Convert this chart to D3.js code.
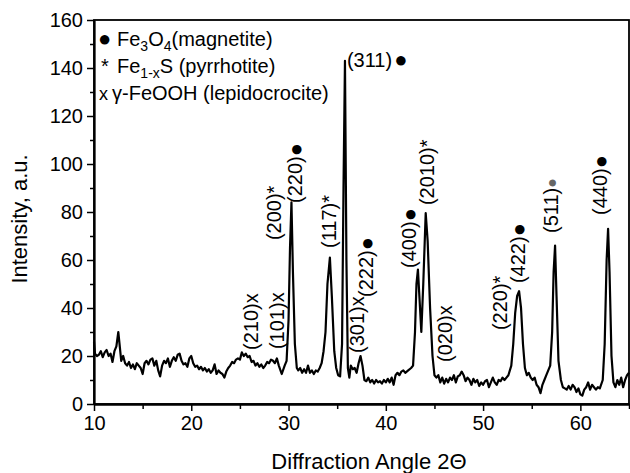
<!DOCTYPE html>
<html>
<head>
<meta charset="utf-8">
<script src="https://cdn.jsdelivr.net/npm/d3@7"></script>
<style>
  body { margin: 0; background: #fff; }
  text { font-family: "Liberation Sans", Arial, sans-serif; fill: #000; }
</style>
</head>
<body>
<script>
const width = 630;
const height = 473;

// XRD pattern: 2theta (deg) and intensity (a.u.)
const twoTheta = [
  10.0, 10.1, 10.3, 10.5, 10.7, 10.9, 11.1, 11.3, 11.5, 11.7, 11.9, 12.1, 12.3, 12.5, 12.6, 12.8,
  13.0, 13.2, 13.4, 13.6, 13.8, 14.0, 14.2, 14.4, 14.6, 14.8, 15.0, 15.2, 15.4, 15.6, 15.8,
  16.0, 16.2, 16.4, 16.6, 16.8, 17.0, 17.2, 17.4, 17.6, 17.8, 18.0, 18.2, 18.4, 18.6, 18.8,
  19.0, 19.2, 19.4, 19.6, 19.8, 20.0, 20.2, 20.4, 20.6, 20.8, 21.0, 21.2, 21.4, 21.6, 21.8,
  22.0, 22.2, 22.4, 22.6, 22.8, 23.0, 23.2, 23.4, 23.6, 23.8, 24.0, 24.2, 24.4, 24.6, 24.8,
  25.0, 25.2, 25.4, 25.6, 25.8, 26.0, 26.2, 26.4, 26.6, 26.8, 27.0, 27.2, 27.4, 27.6, 27.8,
  28.0, 28.2, 28.4, 28.6, 28.8, 29.0, 29.3, 29.6, 29.8, 30.0, 30.15, 30.3, 30.45, 30.65, 30.85,
  31.0, 31.2, 31.4, 31.6, 31.8, 32.0, 32.2, 32.4, 32.6, 32.8, 33.0, 33.2, 33.4, 33.6, 33.8,
  34.0, 34.25, 34.45, 34.7, 34.9, 35.1, 35.3, 35.5, 35.65, 35.8, 35.95, 36.1, 36.25, 36.4, 36.6,
  36.8, 37.0, 37.2, 37.4, 37.6, 37.8, 38.0, 38.2, 38.4, 38.6, 38.8, 39.0, 39.2, 39.4, 39.6,
  39.8, 40.0, 40.2, 40.4, 40.6, 40.8, 41.0, 41.2, 41.4, 41.6, 41.8, 42.0, 42.3, 42.6, 42.8,
  43.0, 43.15, 43.3, 43.45, 43.65, 43.85, 44.1, 44.3, 44.55, 44.8, 45.0, 45.2, 45.4, 45.6, 45.8,
  46.0, 46.2, 46.4, 46.6, 46.8, 47.0, 47.2, 47.4, 47.6, 47.8, 48.0, 48.2, 48.4, 48.6, 48.8,
  49.0, 49.2, 49.4, 49.6, 49.8, 50.0, 50.2, 50.4, 50.6, 50.8, 51.0, 51.2, 51.4, 51.6, 51.8,
  52.0, 52.2, 52.4, 52.6, 52.9, 53.1, 53.3, 53.5, 53.7, 53.9, 54.1, 54.3, 54.5, 54.7, 54.9,
  55.1, 55.3, 55.5, 55.7, 55.9, 56.1, 56.3, 56.5, 56.7, 56.9, 57.1, 57.25, 57.4, 57.55, 57.75,
  58.0, 58.2, 58.4, 58.6, 58.8, 59.0, 59.2, 59.4, 59.6, 59.8, 60.0, 60.2, 60.4, 60.6, 60.8,
  61.0, 61.2, 61.4, 61.6, 61.8, 62.0, 62.3, 62.5, 62.7, 62.85, 63.0, 63.2, 63.4, 63.6, 63.8,
  64.0, 64.2, 64.4, 64.6, 64.8, 65.0
];
const intensity = [
  26, 21, 20, 20.5, 22, 19.5, 21.5, 22.5, 20, 21, 17.5, 22, 24, 30, 26, 18,
  20, 17, 16, 17.5, 15, 16.5, 14.5, 17, 16, 15, 12.5, 17, 18, 16.5, 18.5,
  19, 16, 18, 14, 11.5, 16, 18, 17, 19, 15.5, 18, 19.5, 18, 20.5, 21,
  18, 16.5, 17, 15.5, 19, 20, 17, 15.5, 16, 14.5, 15.5, 14, 15, 13.5, 14.5,
  13, 14, 16.5, 12.5, 14, 13, 12.5, 11, 13.5, 15, 16, 17.5, 17, 18.5, 19,
  18.5, 21.5, 20, 21, 19.5, 20, 17.5, 18, 16, 17, 15.5, 16.5, 15, 16, 17.5,
  17, 18.5, 18, 17, 19, 16, 12.5, 16, 18, 35, 65, 84, 55, 25, 15,
  14, 15, 13, 14.5, 13, 16, 13, 14, 12.5, 14, 13.5, 15, 17, 22, 30,
  50, 61, 45, 22, 15, 12, 11.5, 25, 90, 143, 60, 15, 11, 16, 14.5,
  15, 13, 17, 20, 16, 10, 9.5, 11, 9, 10, 8.5, 10, 9, 9.5, 8.5,
  10, 9, 10.5, 9, 11, 8, 12, 13, 12, 13.5, 14, 13, 14, 15, 16,
  30, 50, 56, 45, 30, 50, 79.5, 68, 40, 20, 12, 11, 12, 9, 11,
  8.5, 10.5, 9, 11, 10, 12, 9, 11.5, 12, 13.5, 12, 9.5, 11, 10, 8,
  10.5, 9, 10, 7.5, 9, 8, 9.5, 10, 7, 9, 11, 9, 8, 10, 9.5,
  11, 10, 11, 12, 16, 25, 38, 45, 47, 40, 25, 15, 12, 13, 11,
  10, 11, 8, 7, 4.5, 8, 10, 12, 14, 16, 30, 55, 66, 45, 18,
  10, 7, 6.5, 6, 7.5, 6, 8, 7, 5, 6.5, 4, 3.5, 6, 7, 9,
  6, 8, 7, 6, 7, 6.5, 10, 25, 60, 73, 55, 20, 9, 7, 10,
  8, 11, 7, 10, 12, 13
];

// peak annotations: text, phase mark, 2theta of label centre, intensity at label foot
const peakNames = ["(210)", "(101)", "(200)", "(220)", "(117)", "(301)", "(222)", "(400)",
  "(2010)", "(020)", "(220)", "(422)", "(511)", "(440)"];
const peakMarks = ["x", "x", "*", "●", "*", "x", "●", "●", "*", "x", "*", "●", "●", "●"];
const peakPos = [26.14, 28.81, 28.5, 30.66, 34.16, 37.04, 37.96, 42.38, 44.23, 46.08, 51.74, 53.59, 56.98, 62.02];
const peakFoot = [22.5, 22.9, 68.3, 83.75, 65, 21.25, 44.6, 56.7, 82.9, 17.5, 30.8, 50.4, 71.25, 78.75];

const xTicks = [10, 20, 30, 40, 50, 60];
const xMinor = [15, 25, 35, 45, 55, 65];
const yTicks = [0, 20, 40, 60, 80, 100, 120, 140, 160];
const yMinor = [10, 30, 50, 70, 90, 110, 130, 150];

const margin = { left: 94, right: 0, top: 20, bottom: 69 };

const svg = d3.select("body").append("svg")
  .attr("width", width)
  .attr("height", height);

const x = d3.scaleLinear().domain([10, 65]).range([margin.left, width - 1]);
const y = d3.scaleLinear().domain([0, 160]).range([height - margin.bottom, margin.top]);

// frame
svg.append("rect")
  .attr("x", x(10)).attr("y", y(160))
  .attr("width", x(65) - x(10)).attr("height", y(0) - y(160))
  .attr("fill", "none").attr("stroke", "#000").attr("stroke-width", 1.8);

// axes
svg.append("g").attr("transform", `translate(0,${y(0)})`)
  .call(d3.axisBottom(x).tickValues(xTicks).tickFormat(d3.format("d")).tickSize(7).tickPadding(5).tickSizeOuter(0));
svg.append("g").attr("transform", `translate(0,${y(0)})`)
  .call(d3.axisBottom(x).tickValues(xMinor).tickFormat("").tickSize(5).tickSizeOuter(0));
svg.append("g").attr("transform", `translate(${x(10)},0)`)
  .call(d3.axisLeft(y).tickValues(yTicks).tickFormat(d3.format("d")).tickSize(7).tickPadding(4).tickSizeOuter(0));
svg.append("g").attr("transform", `translate(${x(10)},0)`)
  .call(d3.axisLeft(y).tickValues(yMinor).tickFormat("").tickSize(4).tickSizeOuter(0));

svg.selectAll(".domain").attr("stroke", "#000").attr("stroke-width", 1.8);
svg.selectAll(".tick line").attr("stroke", "#000").attr("stroke-width", 1.5);
svg.selectAll(".tick text")
  .style("font-family", "'Liberation Sans', Arial, sans-serif")
  .style("font-size", "20px")
  .attr("fill", "#000");

// axis titles
svg.append("text")
  .attr("x", 369).attr("y", 469)
  .attr("text-anchor", "middle")
  .style("font-size", "22px")
  .text("Diffraction Angle 2Θ");

svg.append("text")
  .attr("transform", "translate(27,219) rotate(-90)")
  .attr("text-anchor", "middle")
  .style("font-size", "22px")
  .text("Intensity, a.u.");

// pattern
const pts = twoTheta.map((t, i) => [t, intensity[i]]);
svg.append("path")
  .datum(pts)
  .attr("d", d3.line().x(d => x(d[0])).y(d => y(d[1])))
  .attr("fill", "none")
  .attr("stroke", "#000")
  .attr("stroke-width", 2.2)
  .attr("stroke-linejoin", "round");

// vertical peak labels
peakNames.forEach((name, i) => {
  const t = svg.append("text")
    .attr("transform", `translate(${x(peakPos[i])},${y(peakFoot[i])}) rotate(-90)`)
    .attr("dominant-baseline", "central")
    .style("font-size", "20px")
    .text(name);
  const m = t.append("tspan").text(peakMarks[i]);
  if (peakMarks[i] === "●") m.style("font-size", "22px").attr("dx", 0);
  if (i === 12) m.attr("fill", "#666").style("font-size", "16px");
});

// (311) label, horizontal
const t311 = svg.append("text")
  .attr("x", x(36.0)).attr("y", y(140.4))
  .style("font-size", "20px")
  .text("(311)");
t311.append("tspan").text("●").style("font-size", "22px").attr("dx", 2);

// legend
const legend = svg.append("g").style("font-size", "20px");
const l1 = legend.append("text").attr("x", 98).attr("y", 46);
l1.append("tspan").text("●").style("font-size", "22px");
l1.append("tspan").attr("x", 117).text("Fe");
l1.append("tspan").text("3").attr("dy", 5).style("font-size", "14px");
l1.append("tspan").text("O").attr("dy", -5);
l1.append("tspan").text("4").attr("dy", 5).style("font-size", "14px");
l1.append("tspan").text("(magnetite)").attr("dy", -5);

const l2 = legend.append("text").attr("x", 101).attr("y", 73);
l2.append("tspan").text("*");
l2.append("tspan").attr("x", 117).text("Fe");
l2.append("tspan").text("1-x").attr("dy", 5).style("font-size", "14px");
l2.append("tspan").text("S (pyrrhotite)").attr("dy", -5);

const l3 = legend.append("text").attr("x", 99).attr("y", 100);
l3.append("tspan").text("x").style("font-size", "18px");
l3.append("tspan").attr("x", 112).text("γ-FeOOH (lepidocrocite)");
</script>
</body>
</html>
